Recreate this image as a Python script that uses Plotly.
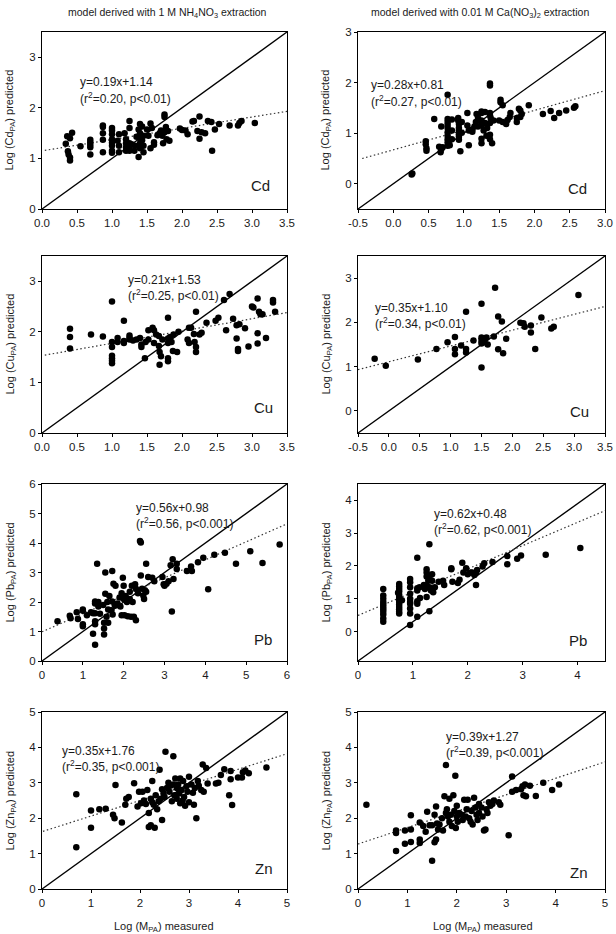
import math
import plotly.graph_objects as go

W, H = 616, 934

# ---------------- data ----------------
cd_nh4_x = [0.34,0.36,0.40,0.43,0.37,0.38,0.40,0.40,0.55,0.69,0.69,0.69,0.69,0.69,0.87,0.87,0.87,0.87,0.87,
            1.0,1.0,1.0,1.0,1.0,1.0,1.0,1.0,1.10,1.08,1.10,1.10,1.18,1.20,1.20,1.20,1.20,1.25,1.25,1.25,1.25,1.25,1.28,
            1.32,1.33,1.35,1.38,1.40,1.40,1.40,1.40,1.40,1.38,1.43,1.43,1.45,1.45,1.45,1.50,1.52,1.55,1.55,1.57,1.60,1.60,
            1.65,1.68,1.70,1.72,1.73,1.75,1.75,1.77,1.75,1.78,1.80,1.82,1.97,2.00,2.05,2.08,2.15,2.17,2.22,2.25,2.25,2.28,
            2.33,2.37,2.42,2.43,2.47,2.53,2.68,2.80,2.82,2.85,3.04]
cd_nh4_y = [1.29,1.44,1.40,1.51,1.14,1.08,1.02,0.96,1.24,1.37,1.32,1.27,1.22,1.08,1.65,1.62,1.50,1.37,1.12,
            1.60,1.55,1.48,1.38,1.31,1.25,1.15,1.11,1.48,1.35,1.25,1.12,1.50,1.38,1.30,1.22,1.15,1.74,1.60,1.30,1.22,1.15,1.28,
            1.15,1.25,1.43,1.57,1.68,1.50,1.40,1.30,1.20,1.03,1.63,1.36,1.25,1.12,1.45,1.57,1.45,1.69,1.20,1.60,1.27,1.32,
            1.46,1.50,1.55,1.45,1.30,1.87,1.82,1.62,1.52,1.38,1.54,1.35,1.59,1.56,1.55,1.48,1.73,1.74,1.54,1.83,1.39,1.52,
            1.50,1.74,1.72,1.15,1.57,1.68,1.65,1.65,1.70,1.74,1.70]

cd_ca_x = [0.26,0.27,0.46,0.46,0.47,0.47,0.58,0.65,0.67,0.68,0.70,0.68,
           0.77,0.77,0.77,0.77,0.77,0.77,0.77,0.77,0.77,0.77,0.80,0.83,0.83,0.83,
           0.92,0.92,0.93,0.93,0.93,0.93,0.93,0.93,0.95,0.97,0.97,
           1.05,1.05,1.07,1.07,1.12,1.12,1.15,1.18,1.20,1.20,1.17,
           1.25,1.25,1.25,1.25,1.25,1.25,1.28,1.30,1.30,1.32,1.33,
           1.37,1.37,1.37,1.37,1.38,1.37,1.37,1.37,1.40,1.42,
           1.52,1.52,1.55,1.50,1.55,1.60,1.62,1.65,1.66,
           1.75,1.75,1.78,1.80,1.82,1.80,1.92,2.12,2.23,2.28,2.35,2.45,2.56,2.58]
cd_ca_y = [0.18,0.20,0.84,0.78,0.70,0.65,1.28,0.73,0.62,0.68,0.72,1.13,
           1.76,1.28,1.22,1.16,1.10,1.02,0.95,0.88,0.82,0.75,0.76,1.27,1.05,0.88,
           1.30,1.25,1.18,1.10,1.05,0.98,0.93,0.87,0.64,1.22,1.01,
           1.40,1.15,1.05,0.76,1.07,1.03,1.13,1.38,1.30,1.13,1.22,
           1.43,1.40,1.25,1.15,0.89,0.80,1.05,1.20,1.42,0.95,1.10,
           1.98,1.94,1.40,1.35,1.30,1.20,0.97,0.88,0.80,1.25,
           1.66,1.61,1.55,1.25,1.22,1.18,1.26,1.32,1.40,
           1.30,1.22,1.48,1.45,1.38,1.32,1.55,1.38,1.44,1.30,1.40,1.45,1.50,1.53]

cu_nh4_x = [0.40,0.40,0.40,0.70,0.87,1.0,1.0,1.0,1.0,1.0,1.0,1.0,
            1.08,1.08,1.17,1.17,1.17,1.25,1.25,1.25,1.30,1.35,1.40,1.42,1.42,1.47,1.48,1.52,1.52,1.58,1.60,1.60,
            1.63,1.67,1.67,1.68,1.68,1.70,1.72,1.80,1.80,1.80,1.80,1.80,1.83,1.85,1.87,1.88,1.93,1.95,
            2.08,2.10,2.10,2.13,2.17,2.18,2.20,2.20,2.20,2.25,2.28,2.35,2.48,2.52,2.60,2.63,2.68,2.73,2.78,2.78,
            2.80,2.80,2.82,2.90,2.95,3.00,3.02,3.08,3.08,3.08,3.10,3.12,3.15,3.20,3.30,3.30,3.33]
cu_nh4_y = [2.06,1.90,1.67,1.95,1.91,2.60,1.80,1.70,1.53,1.48,1.43,1.38,
            1.88,1.80,2.22,1.78,1.82,1.93,1.88,1.85,1.83,1.85,1.88,1.75,1.70,1.48,1.80,1.85,2.03,2.08,2.03,1.78,
            1.95,1.92,1.72,1.60,1.35,1.52,1.85,2.28,1.87,1.78,1.48,1.42,1.90,1.80,1.62,1.95,1.60,2.00,
            1.85,2.08,1.78,2.08,1.96,1.80,1.70,1.60,2.40,1.95,1.98,2.18,2.22,2.28,2.63,2.03,2.75,2.26,2.13,1.87,
            1.66,1.62,2.15,2.07,1.71,2.50,2.48,2.66,1.97,1.77,2.40,2.35,2.35,1.88,2.63,2.58,2.40]

cu_ca_x = [-0.23,-0.05,0.47,0.77,0.95,1.07,1.07,1.07,1.17,1.25,1.25,1.25,1.37,1.50,1.50,1.50,1.50,1.50,
           1.55,1.58,1.60,1.70,1.72,1.77,1.77,1.83,1.85,1.90,2.13,2.18,2.20,2.30,2.30,2.37,2.47,2.63,2.67,3.07]
cu_ca_y = [1.18,1.02,1.16,1.40,1.55,1.67,1.40,1.28,1.48,2.24,1.40,1.32,1.59,2.42,1.66,1.58,1.52,0.98,
           1.55,1.66,1.50,1.68,2.78,2.13,1.39,2.02,1.30,1.63,1.99,1.98,1.90,1.93,1.77,1.40,2.11,1.86,1.90,2.62]

pb_nh4_x = [0.38,0.68,0.70,0.85,0.88,1.0,1.0,1.0,1.0,1.10,1.20,1.25,1.25,1.30,1.30,1.30,1.30,1.30,1.30,
            1.35,1.38,1.38,1.42,1.50,1.52,1.52,1.52,1.55,1.55,1.58,1.60,1.62,1.62,1.65,1.70,1.72,1.72,1.73,
            1.75,1.78,1.80,1.80,1.85,1.90,1.92,1.95,1.95,1.98,2.00,2.00,2.02,2.05,2.08,2.10,2.15,2.15,2.18,
            2.20,2.22,2.25,2.28,2.30,2.30,2.35,2.40,2.42,2.42,2.45,2.48,2.50,2.52,2.55,2.55,2.60,2.70,2.75,
            2.95,2.98,3.00,3.05,3.10,3.15,3.18,3.20,3.22,3.30,3.30,3.55,3.65,3.67,3.82,3.95,4.07,4.22,4.48,
            4.75,5.10,5.40,5.82]
pb_nh4_y = [1.35,1.53,1.45,1.65,1.42,1.75,1.70,1.25,1.18,1.55,1.65,1.62,0.92,2.02,1.95,1.62,1.35,1.25,0.55,
            3.30,2.00,1.85,1.60,1.90,1.30,1.10,0.90,3.00,2.28,1.50,2.00,1.75,1.30,2.20,1.72,3.05,2.02,1.58,
            2.62,1.90,2.55,1.88,1.95,2.15,1.85,2.30,1.55,2.82,2.55,2.10,1.55,2.20,2.00,1.52,2.35,2.10,1.50,
            2.55,2.00,1.50,2.60,2.45,1.38,2.30,4.07,4.02,2.90,2.45,2.22,2.10,2.40,3.30,2.35,2.85,2.82,2.70,
            2.85,2.60,2.55,2.62,2.70,3.25,1.68,3.45,2.78,3.30,3.12,3.05,3.20,3.05,3.35,3.50,2.43,3.60,3.67,
            3.30,3.72,3.32,3.95]

pb_ca_x = [0.46]*11 + [0.75]*13 + [0.73,0.80] + [0.95]*10 + \
          [1.08,1.08,1.08,1.08,1.08,1.08,1.12,1.13,1.20,1.22,1.25,1.25,1.25,1.25,1.25,1.28,1.30,1.30,1.30,1.30,
           1.33,1.35,1.35,1.37,1.40,1.47,1.55,1.57,1.70,1.70,1.72,1.82,1.85,1.90,1.92,1.97,2.00,2.05,2.08,2.12,
           2.15,2.15,2.17,2.27,2.30,2.45,2.72,2.72,2.90,2.97,3.42,4.05]
pb_ca_y = [1.30,1.10,1.00,0.90,0.82,0.75,0.68,0.60,0.52,0.40,0.30,
           1.45,1.30,1.22,1.12,1.05,0.98,0.90,0.82,0.75,0.68,0.60,0.55,1.37,1.18,0.95,
           1.60,1.50,1.35,1.15,1.00,0.90,0.85,0.70,0.55,0.20,
           2.25,1.32,1.25,0.92,0.85,0.45,1.35,1.02,1.42,1.30,1.90,1.80,1.68,1.40,1.05,1.55,2.66,1.65,1.35,0.62,
           1.25,1.75,1.55,1.20,1.35,1.52,1.55,1.42,1.93,1.90,1.52,1.48,1.58,2.10,1.80,1.93,1.75,1.80,1.80,1.72,
           1.42,1.80,1.88,1.98,2.08,2.12,2.30,2.05,2.22,2.32,2.34,2.55]

zn_nh4_x = [0.70,0.70,1.0,1.0,1.17,1.30,1.45,1.48,1.50,1.63,1.70,1.72,1.77,1.88,1.95,1.98,2.02,2.05,2.08,2.12,
            2.15,2.18,2.18,2.22,2.22,2.25,2.25,2.28,2.30,2.32,2.35,2.38,2.40,2.42,2.45,2.45,2.48,2.50,2.52,2.55,
            2.58,2.60,2.62,2.65,2.68,2.68,2.70,2.72,2.75,2.75,2.78,2.80,2.82,2.82,2.85,2.87,2.88,2.90,2.92,2.95,
            2.97,3.00,3.00,3.05,3.08,3.10,3.12,3.15,3.18,3.20,3.25,3.28,3.30,3.35,3.38,3.55,3.60,3.65,3.72,3.82,
            3.85,3.85,3.88,4.00,4.08,4.10,4.15,4.22,4.58]
zn_nh4_y = [2.68,1.18,2.22,1.73,2.25,2.27,2.10,2.00,2.94,1.88,2.38,2.55,2.60,2.99,2.33,2.75,2.42,2.75,2.50,2.40,
            2.80,2.15,1.75,1.80,2.55,3.05,2.45,2.38,1.73,2.65,2.25,2.48,3.37,2.55,2.82,1.95,2.70,2.60,3.88,2.85,
            3.00,2.75,2.92,2.48,3.75,2.95,2.65,3.12,2.85,2.55,2.95,2.70,3.12,2.42,2.80,2.50,3.05,2.60,2.35,2.90,
            2.75,3.17,2.45,2.95,2.72,2.38,2.85,2.00,3.05,2.92,2.80,3.52,2.75,3.42,2.98,2.98,3.00,3.22,3.38,2.65,
            3.33,3.10,2.37,3.15,3.15,3.30,3.35,3.27,3.43]

zn_ca_x = [0.17,0.77,0.77,0.77,0.95,0.95,1.07,1.07,1.07,1.25,1.25,1.25,1.32,1.37,1.40,1.45,1.50,1.50,1.55,1.55,
           1.58,1.58,1.60,1.62,1.65,1.70,1.72,1.75,1.78,1.78,1.80,1.82,1.85,1.85,1.88,1.90,1.93,1.95,1.97,1.98,
           2.00,2.00,2.02,2.05,2.10,2.12,2.15,2.18,2.20,2.22,2.25,2.28,2.30,2.32,2.35,2.38,2.40,2.42,2.45,2.45,
           2.50,2.52,2.55,2.58,2.60,2.62,2.65,2.68,2.72,2.75,2.85,2.88,3.05,3.12,3.12,3.20,3.30,3.33,3.35,3.38,
           3.40,3.48,3.60,3.75,3.93,4.07]
zn_ca_y = [2.38,1.65,1.58,1.07,1.65,1.28,2.08,1.68,1.33,1.88,1.40,1.30,1.78,1.62,2.18,1.80,1.80,0.80,2.10,1.32,
           2.33,1.40,1.85,1.68,1.82,2.00,1.65,2.62,2.15,3.50,2.25,2.05,2.55,1.90,2.10,1.78,2.65,2.20,3.20,1.72,
           2.35,2.05,1.90,2.15,2.10,1.95,2.52,2.05,2.25,2.52,2.00,1.90,2.20,1.82,2.58,2.30,2.10,1.95,2.40,2.15,
           2.30,2.05,1.65,1.68,2.25,2.15,2.45,2.35,2.40,2.50,2.45,2.38,1.52,3.18,2.75,2.80,2.82,2.90,2.65,2.95,
           2.62,2.92,2.63,3.00,2.80,2.95]

xs_data = [cd_nh4_x, cd_ca_x, cu_nh4_x, cu_ca_x, pb_nh4_x, pb_ca_x, zn_nh4_x, zn_ca_x]
ys_data = [cd_nh4_y, cd_ca_y, cu_nh4_y, cu_ca_y, pb_nh4_y, pb_ca_y, zn_nh4_y, zn_ca_y]

elements = ["Cd", "Cd", "Cu", "Cu", "Pb", "Pb", "Zn", "Zn"]
eq_text = ["y=0.19x+1.14", "y=0.28x+0.81", "y=0.21x+1.53", "y=0.35x+1.10",
           "y=0.56x+0.98", "y=0.62x+0.48", "y=0.35x+1.76", "y=0.39x+1.27"]
r2_text = ["0.20", "0.27", "0.25", "0.34", "0.56", "0.62", "0.35", "0.39"]
p_text = ["0.01", "0.01", "0.01", "0.01", "0.001", "0.001", "0.001", "0.001"]

# drawn regression lines (as they appear on the figure)
reg_slope = [0.223, 0.39, 0.243, 0.357, 0.61, 0.71, 0.44, 0.464]
reg_intercept = [1.15, 0.67, 1.53, 1.11, 0.99, 0.49, 1.62, 1.27]
reg_x_start = [0.04, -0.44, 0.04, -0.5, 0.0, 0.0, 0.02, 0.0]

x_ranges = [[0, 3.5], [-0.5, 3.0], [0, 3.5], [-0.5, 3.5], [0, 6], [0, 4.5], [0, 5], [0, 5]]
y_ranges = [[0, 3.5], [-0.5, 3.0], [0, 3.5], [-0.5, 3.5], [0, 6], [-0.9, 4.5], [0, 5], [0, 5]]
x_dtick = [0.5, 0.5, 0.5, 0.5, 1, 1, 1, 1]
x_decimals = [1, 1, 1, 1, 0, 0, 0, 0]

col_titles = ["model derived with 1 M NH<sub>4</sub>NO<sub>3</sub> extraction",
              "model derived with 0.01 M Ca(NO<sub>3</sub>)<sub>2</sub> extraction"]

# ---------------- layout geometry (pixels) ----------------
col_px = [(42, 287), (358, 605)]
row_px = [(32, 209), (256, 433), (484, 661), (712, 889)]


def px_x(p):
    return p / W


def px_y(p):
    return 1 - p / H


def make_ticks(rng, step, dec):
    start = math.ceil(rng[0] / step - 1e-9)
    stop = math.floor(rng[1] / step + 1e-9)
    vals = [k * step for k in range(start, stop + 1)]
    text = []
    for v in vals:
        t = ("%." + str(dec) + "f") % v
        if t in ("-0", "-0.0"):
            t = t[1:]
        text.append(t)
    return vals, text


eq_pos = [(78, 82, 98), (369, 85, 101), (126, 280, 295), (373, 308, 323),
          (134, 508, 523), (432, 514, 529), (60, 751, 766), (444, 737, 752)]
el_pos = [(260, 186), (577, 189), (263, 408), (579, 411),
          (263, 639), (578, 640), (264, 868), (579, 872)]

FONT = "Liberation Sans, Arial, sans-serif"
TXT = "#1a1a1a"

fig = go.Figure()
layout = dict(width=W, height=H, margin=dict(l=0, r=0, t=0, b=0, autoexpand=False),
              paper_bgcolor="white", plot_bgcolor="white", showlegend=False,
              font=dict(family=FONT, size=11, color=TXT))
annotations = []

for i in range(8):
    r, c = divmod(i, 2)
    ax = "" if i == 0 else str(i + 1)
    xa, ya = "x" + ax, "y" + ax
    xr, yr = x_ranges[i], y_ranges[i]
    common = dict(showline=True, linecolor="black", linewidth=1, mirror=True,
                  ticks="outside", ticklen=3, tickwidth=1, tickcolor="black",
                  showgrid=False, zeroline=False, automargin=False,
                  tickfont=dict(family=FONT, size=11.5, color=TXT))
    xtv, xtt = make_ticks(xr, x_dtick[i], x_decimals[i])
    ytv, ytt = make_ticks(yr, 1, 0)
    layout["xaxis" + ax] = dict(common, domain=[px_x(col_px[c][0]), px_x(col_px[c][1])],
                                anchor=ya, range=xr, tickmode="array", tickvals=xtv, ticktext=xtt)
    layout["yaxis" + ax] = dict(common, domain=[px_y(row_px[r][1]), px_y(row_px[r][0])],
                                anchor=xa, range=yr, tickmode="array", tickvals=ytv, ticktext=ytt)

    # 1:1 line (corner to corner)
    fig.add_trace(go.Scatter(x=[xr[0], xr[1]], y=[yr[0], yr[1]], mode="lines",
                             line=dict(color="black", width=1.4), xaxis=xa, yaxis=ya,
                             hoverinfo="skip"))
    # regression line
    rx = [reg_x_start[i], xr[1]]
    ry = [reg_slope[i] * v + reg_intercept[i] for v in rx]
    fig.add_trace(go.Scatter(x=rx, y=ry, mode="lines",
                             line=dict(color="#333333", width=1.2, dash="1.5px,2.5px"),
                             xaxis=xa, yaxis=ya, hoverinfo="skip"))
    # points
    fig.add_trace(go.Scatter(x=xs_data[i], y=ys_data[i], mode="markers",
                             marker=dict(color="black", size=6.5, line=dict(width=0)),
                             xaxis=xa, yaxis=ya))

    # equation text
    ex, ey1, ey2 = eq_pos[i]
    annotations.append(dict(xref="paper", yref="paper", x=px_x(ex), y=px_y(ey1),
                            xanchor="left", yanchor="middle", showarrow=False,
                            text=eq_text[i], font=dict(family=FONT, size=12, color=TXT)))
    annotations.append(dict(xref="paper", yref="paper", x=px_x(ex), y=px_y(ey2),
                            xanchor="left", yanchor="middle", showarrow=False,
                            text="(r<sup>2</sup>=" + r2_text[i] + ", p&lt;" + p_text[i] + ")",
                            font=dict(family=FONT, size=12, color=TXT)))
    # element label
    annotations.append(dict(xref="paper", yref="paper", x=px_x(el_pos[i][0]), y=px_y(el_pos[i][1]),
                            xanchor="center", yanchor="middle", showarrow=False,
                            text=elements[i], font=dict(family=FONT, size=15, color=TXT)))
    # y-axis title
    ytx = 10 if c == 0 else 326
    annotations.append(dict(xref="paper", yref="paper", x=px_x(ytx),
                            y=px_y((row_px[r][0] + row_px[r][1]) / 2),
                            xanchor="center", yanchor="middle", showarrow=False, textangle=-90,
                            text="Log (" + elements[i] + "<sub>PA</sub>) predicted",
                            font=dict(family=FONT, size=11, color=TXT)))

# column titles
for c, (cx, cy) in enumerate([(167, 13), (480, 13)]):
    annotations.append(dict(xref="paper", yref="paper", x=px_x(cx), y=px_y(cy),
                            xanchor="center", yanchor="middle", showarrow=False,
                            text=col_titles[c], font=dict(family=FONT, size=10.5, color=TXT)))
# x-axis titles
for cx in [164, 483]:
    annotations.append(dict(xref="paper", yref="paper", x=px_x(cx), y=px_y(927),
                            xanchor="center", yanchor="middle", showarrow=False,
                            text="Log (M<sub>PA</sub>) measured",
                            font=dict(family=FONT, size=11, color=TXT)))

layout["annotations"] = annotations
fig.update_layout(**layout)
fig.write_html("out.html")
